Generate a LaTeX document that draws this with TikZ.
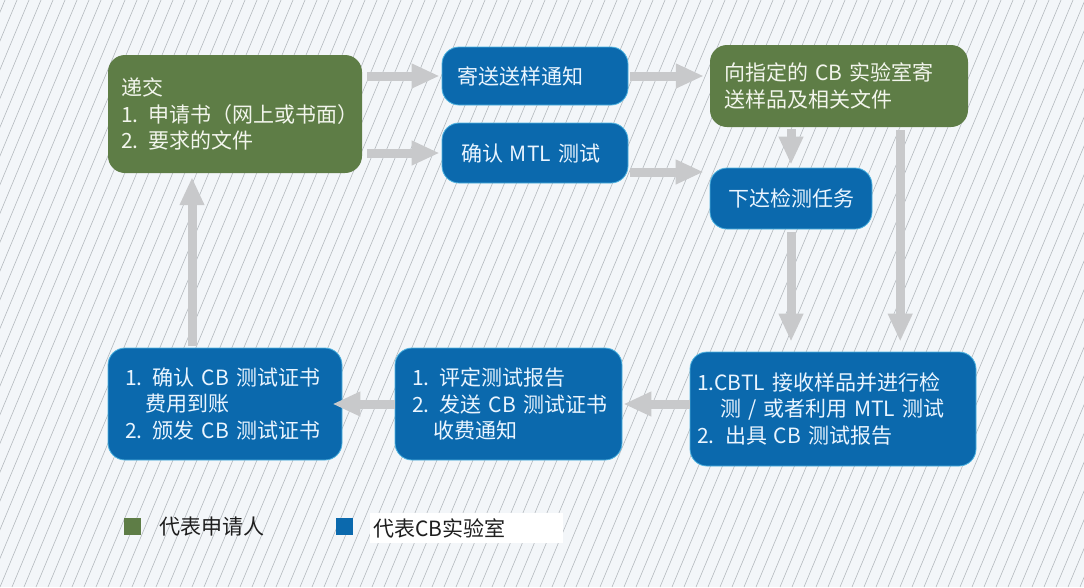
\documentclass[tikz,border=0pt]{standalone}
\usepackage{fontspec}
\setmainfont{Noto Sans CJK SC}
\usetikzlibrary{arrows.meta}
\definecolor{bg}{HTML}{F3F6F9}
\definecolor{hatch}{HTML}{B4B9BE}
\definecolor{gbox}{HTML}{5E7D46}
\definecolor{bbox}{HTML}{0B69AD}
\definecolor{bedge}{HTML}{4FB3E0}
\definecolor{arrowc}{HTML}{C8C9CB}
\definecolor{gtext}{HTML}{F2F5EC}
\definecolor{btext}{HTML}{EAF5FF}
\definecolor{legtext}{HTML}{1E1E1E}
\begin{document}
\begin{tikzpicture}[x=1pt,y=-1pt,
  box/.style={rectangle, rounded corners=17pt, anchor=center, inner ysep=0pt, align=left,
    font=\fontsize{21}{26.5}\selectfont},
  gb/.style={box, fill=gbox, text=gtext},
  bb/.style={box, fill=bbox, draw=bedge, line width=0.8pt, text=btext},
  arr/.style={draw=arrowc, line width=9pt, -{Triangle[length=28pt,width=23pt]}},
  legfont/.style={font=\fontsize{21}{24}\selectfont, text=legtext},
]
\useasboundingbox (0,0) rectangle (1084,587);
\fill[bg] (0,0) rectangle (1084,587);
\begin{scope}
  \clip (0,0) rectangle (1084,587);
  \foreach \i in {-22,...,92} \draw[hatch, line width=0.6pt] (\i*12, 587) -- (\i*12+245, 0);
\end{scope}

% boxes
\node[gb, minimum width=254pt, minimum height=118pt, inner xsep=13pt, text width=228pt] (g1) at (235,114)
  {递交\\\mbox{1. 申请书（网上或书面）}\\\mbox{2. 要求的文件}};
\node[bb, minimum width=186pt, minimum height=58pt, inner xsep=15pt, text width=156pt] (s1) at (535,76)
  {寄送送样通知};
\node[bb, minimum width=186pt, minimum height=60pt, inner xsep=19pt, text width=148pt] (s2) at (535,153)
  {\mbox{确认 MTL 测试}};
\node[gb, minimum width=258pt, minimum height=82pt, inner xsep=14pt, text width=230pt] (g2) at (839,86)
  {\mbox{向指定的 CB 实验室寄}\\送样品及相关文件};
\node[bb, minimum width=162pt, minimum height=61pt, inner xsep=18pt, text width=126pt] (t) at (791,198.5)
  {下达检测任务};
\node[bb, minimum width=286pt, minimum height=114pt, inner xsep=7pt, text width=272pt] (r) at (833,409)
  {\mbox{1.CBTL 接收样品并进行检}\\\hspace*{23pt}\mbox{测 / 或者利用 MTL 测试}\\\mbox{2. 出具 CB 测试报告}};
\node[bb, minimum width=227pt, minimum height=112pt, inner xsep=17pt, text width=193pt] (m) at (508.5,404)
  {\mbox{1. 评定测试报告}\\\mbox{2. 发送 CB 测试证书}\\\hspace*{21pt}收费通知};
\node[bb, minimum width=234pt, minimum height=112pt, inner xsep=17pt, text width=200pt] (l) at (225,404)
  {\mbox{1. 确认 CB 测试证书}\\\hspace*{20pt}费用到账\\\mbox{2. 颁发 CB 测试证书}};

% arrows
\draw[arr, shorten <=5pt, shorten >=2pt] (g1.east |- s1.west) -- (s1.west);
\draw[arr, shorten <=5pt, shorten >=2pt] (g1.east |- s2.west) -- (s2.west);
\draw[arr, shorten <=2pt, shorten >=6pt] (s1.east) -- (s1.east -| g2.west);
\draw[arr, shorten <=2pt, shorten >=6pt] ([yshift=-19pt]s2.east) -- ([yshift=-19pt]s2.east -| t.west);
\draw[arr, shorten <=2pt, shorten >=3pt] (g2.south -| t.north) -- (t.north);
\draw[arr, shorten <=3pt, shorten >=10pt] (t.south) -- (t.south |- r.north);
\draw[arr, shorten <=3pt, shorten >=10pt] ([xshift=-68pt]g2.south east) -- ([xshift=-68pt]g2.south east |- r.north);
\draw[arr, shorten >=1pt] (r.west |- m.east) -- (m.east);
\draw[arr, shorten >=-10pt] (m.west) -- (m.west -| l.east);
\draw[arr, shorten <=2pt, shorten >=4pt] ([xshift=-33pt]l.north) -- ([xshift=-33pt]l.north |- g1.south);

% legend
\node[fill=gbox, minimum size=17pt, inner sep=0pt] (lg) at (132.5,526.5) {};
\node[legfont, anchor=west, inner sep=0pt] (lgt) at (159,527) {代表申请人};
\node[fill=bbox, minimum size=17pt, inner sep=0pt] (lb) at (344,526.5) {};
\node[legfont, fill=white, anchor=west, minimum height=30pt, inner xsep=3pt, inner ysep=0pt, text width=187pt, align=left] (lbt) at (370,528) {代表CB实验室};
\end{tikzpicture}
\end{document}
